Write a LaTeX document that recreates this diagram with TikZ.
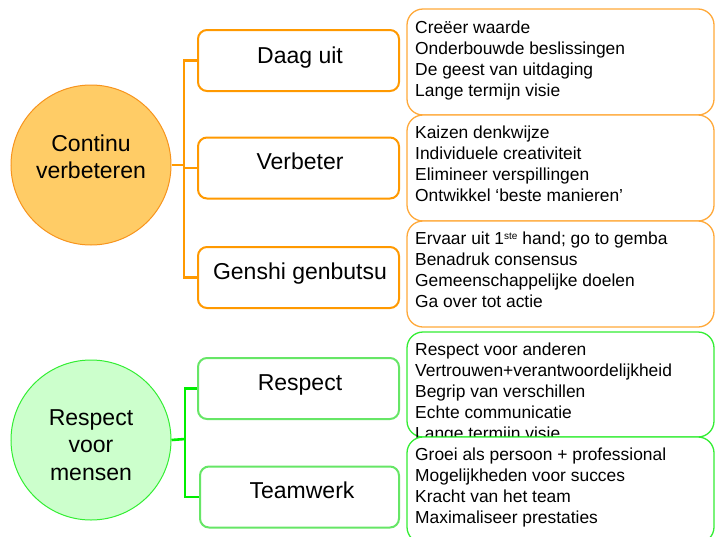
\documentclass[tikz,border=0pt]{standalone}
\usepackage{fontspec}
\setmainfont{Liberation Sans}
\definecolor{orline}{HTML}{FF9900}
\definecolor{orbox}{HTML}{FFA93A}
\definecolor{orfill}{HTML}{FFCC66}
\definecolor{orcirc}{HTML}{F7941D}
\definecolor{grline}{HTML}{00EE00}
\definecolor{grbox}{HTML}{66E666}
\definecolor{grright}{HTML}{33EE33}
\definecolor{grfill}{HTML}{CCFFCC}
\definecolor{grcirc}{HTML}{33EE33}
\newcommand{\supste}{\raisebox{5pt}{\fontsize{10}{10}\selectfont ste}}
\tikzset{
  bigc/.style={circle, minimum size=160pt, inner sep=0pt, line width=1pt},
  midbox/.style={rectangle, rounded corners=9pt, minimum width=201pt, minimum height=61pt, line width=2pt, fill=white, inner sep=0pt},
  listbox/.style={rectangle, rounded corners=16pt, minimum width=307pt, line width=1.3pt, fill=white, inner sep=0pt},
  conn/.style={line width=2.6pt},
  bigtxt/.style={font=\fontsize{23}{27}\selectfont, anchor=base, inner sep=0pt},
  item/.style={font=\fontsize{17.4}{21}\selectfont, anchor=base west, inner sep=0pt},
}
\begin{document}
\begin{tikzpicture}[x=1pt,y=-1pt]
\clip (0,0) rectangle (718,536);
\fill[white] (0,0) rectangle (718,536);
% circles
\node[bigc, draw=orcirc, fill=orfill] (c1) at (91,165) {};
\node[bigtxt] (c1a) at (91,151) {Continu};
\node[bigtxt] (c1b) at (91,178) {verbeteren};
\node[bigc, draw=grcirc, fill=grfill] (c2) at (91,440) {};
\node[bigtxt] (c2a) at (91,425) {Respect};
\node[bigtxt] (c2b) at (91,452) {voor};
\node[bigtxt] (c2c) at (91,480) {mensen};
% middle boxes
\node[midbox, draw=orline] (b1) at (298.5,60.5) {};
\node[midbox, draw=orline] (b2) at (298.5,168) {};
\node[midbox, draw=orline] (b3) at (298.5,277.5) {};
\node[midbox, draw=grbox] (b4) at (298.5,388.5) {};
\node[midbox, draw=grbox, minimum width=199pt] (b5) at (299.5,497) {};
\node[bigtxt] (t1) at (300,63) {Daag uit};
\node[bigtxt] (t2) at (300,169) {Verbeter};
\node[bigtxt] (t3) at (300,279) {Genshi genbutsu};
\node[bigtxt] (t4) at (300,390) {Respect};
\node[bigtxt] (t5) at (302,498) {Teamwerk};
% connectors
\coordinate (j1) at (184,165);
\coordinate (j2) at (185,439);
\draw[conn, orline] (c1.east) -- (j1);
\draw[conn, orline] (j1) |- (b1.west);
\draw[conn, orline] (j1) |- (b2.west);
\draw[conn, orline] (j1) |- (b3.west);
\draw[conn, grline] (c2.east) -- (j2);
\draw[conn, grline] (j2) |- (b4.west);
\draw[conn, grline] (j2) |- (b5.west);
% list boxes
\node[listbox, draw=orbox, minimum height=106pt] (r1) at (560.5,62) {};
\node[item] (r1a) at (415,33) {Creëer waarde};
\node[item] (r1b) at (415,54) {Onderbouwde beslissingen};
\node[item] (r1c) at (415,75) {De geest van uitdaging};
\node[item] (r1d) at (415,96) {Lange termijn visie};
\node[listbox, draw=orbox, minimum height=106pt] (r2) at (560.5,168) {};
\node[item] (r2a) at (415,138) {Kaizen denkwijze};
\node[item] (r2b) at (415,159) {Individuele creativiteit};
\node[item] (r2c) at (415,180) {Elimineer verspillingen};
\node[item] (r2d) at (415,201) {Ontwikkel ‘beste manieren’};
\node[listbox, draw=orbox, minimum height=106pt] (r3) at (560.5,274) {};
\node[item] (r3a) at (415,244) {Ervaar uit 1\supste{} hand; go to gemba};
\node[item] (r3b) at (415,265) {Benadruk consensus};
\node[item] (r3c) at (415,286) {Gemeenschappelijke doelen};
\node[item] (r3d) at (415,307) {Ga over tot actie};
\node[listbox, draw=grright, minimum height=105pt] (r4) at (560.5,384.5) {};
\node[item] (r4a) at (415,355) {Respect voor anderen};
\node[item] (r4b) at (415,376) {Vertrouwen+verantwoordelijkheid};
\node[item] (r4c) at (415,397) {Begrip van verschillen};
\node[item] (r4d) at (415,418) {Echte communicatie};
\node[item] (r4e) at (415,439) {Lange termijn visie};
\node[listbox, draw=grright, minimum height=106pt] (r5) at (560.5,490) {};
\node[item] (r5a) at (415,460) {Groei als persoon + professional};
\node[item] (r5b) at (415,481) {Mogelijkheden voor succes};
\node[item] (r5c) at (415,502) {Kracht van het team};
\node[item] (r5d) at (415,523) {Maximaliseer prestaties};
\end{tikzpicture}
\end{document}
